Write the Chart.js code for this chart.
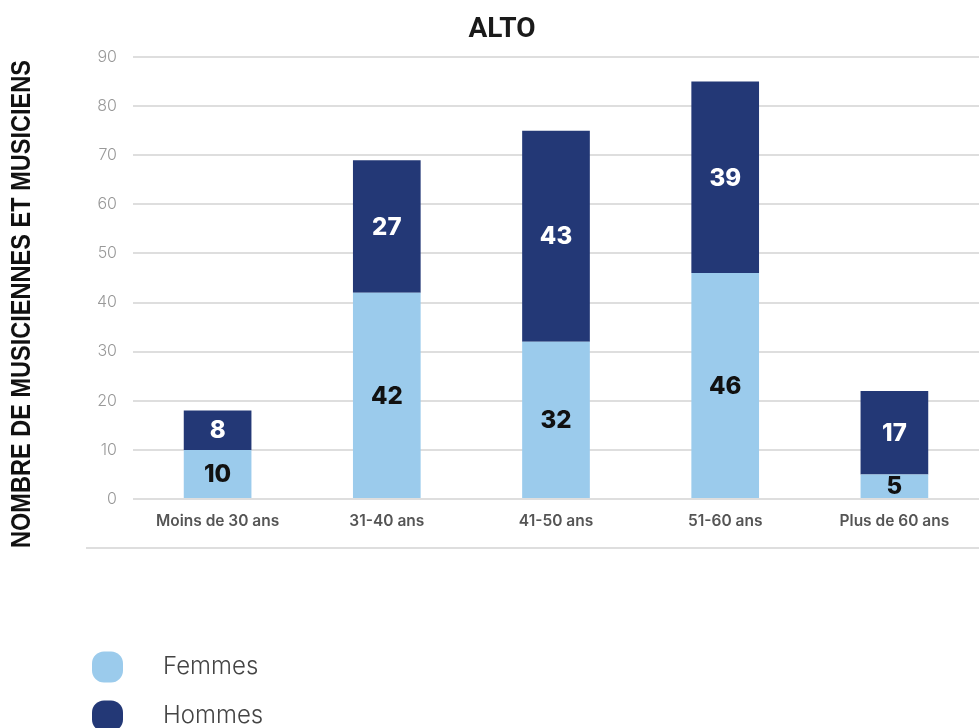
<!DOCTYPE html>
<html lang="fr">
<head>
  <meta charset="UTF-8" />
  <title>Alto – répartition par âge</title>
  <script src="https://cdn.jsdelivr.net/npm/chart.js"></script>
  <style>
    html, body { margin:0; padding:0; background:#fff; }
    #chart { display:block; }
  </style>
</head>
<body>
<canvas id="chart" width="979" height="728"></canvas>
<script>
  // data
  const categories = ["Moins de 30 ans", "31-40 ans", "41-50 ans", "51-60 ans", "Plus de 60 ans"];
  const femmes = [10, 42, 32, 46, 5];
  const hommes = [8, 27, 43, 39, 17];
  const yTicks = [0, 10, 20, 30, 40, 50, 60, 70, 80, 90];
  const seriesNames = ["Femmes", "Hommes"];
  const seriesColors = ["#9bcbec", "#233876"];
  const labelColors = ["#111", "#fff"];
  const chartTitle = "ALTO";
  const yTitle = "NOMBRE DE MUSICIENNES ET MUSICIENS";

  // title, y title, separator line and legend drawn by hand
  const decor = {
    id: 'decor',
    afterDraw(chart) {
      const c = chart.ctx;
      c.save();
      c.fillStyle = '#1a1a1a';
      c.font = 'bold 28px Roboto, sans-serif';
      c.textAlign = 'center'; c.textBaseline = 'middle';
      c.fillText(chartTitle, 502, 30);

      c.save();
      c.translate(22, 304);
      c.rotate(-Math.PI/2);
      c.font = 'bold 28px "Liberation Sans Narrow", "Liberation Sans", sans-serif';
      // squeeze to the measured length of the original label
      const w = c.measureText(yTitle).width;
      c.scale(488 / w, 1);
      c.fillStyle = '#111';
      c.fillText(yTitle, 0, 0);
      c.restore();

      c.strokeStyle = '#dedede'; c.lineWidth = 2;
      c.beginPath(); c.moveTo(86, 548); c.lineTo(979, 548); c.stroke();

      chart.data.datasets.forEach((ds, i) => {
        const y = 667 + i*49;
        c.fillStyle = ds.backgroundColor;
        c.beginPath();
        c.roundRect(92, y-15.5, 31, 31, 12);
        c.fill();
        c.fillStyle = '#444';
        c.font = '300 24px Inter, sans-serif';
        c.textAlign = 'left';
        c.fillText(ds.label, 163, y);
      });
      c.restore();
    }
  };

  // value in the middle of each segment
  const segLabels = {
    id: 'segLabels',
    afterDatasetsDraw(chart) {
      const c = chart.ctx;
      c.save();
      c.font = '800 24px Inter, sans-serif';
      c.textAlign = 'center'; c.textBaseline = 'middle';
      chart.data.datasets.forEach((ds, i) => {
        chart.getDatasetMeta(i).data.forEach((bar, j) => {
          const p = bar.getProps(['x','y','base'], true);
          c.fillStyle = labelColors[i];
          c.fillText(ds.data[j], p.x, (p.y + p.base)/2 + 1);
        });
      });
      c.restore();
    }
  };

  new Chart(document.getElementById('chart'), {
    type: 'bar',
    data: {
      labels: categories,
      datasets: [
        { label: seriesNames[0], data: femmes, backgroundColor: seriesColors[0] },
        { label: seriesNames[1], data: hommes, backgroundColor: seriesColors[1] }
      ]
    },
    options: {
      responsive: false,
      animation: false,
      layout: { padding: { top: 57, right: 0, bottom: 0, left: 0 } },
      datasets: { bar: { barPercentage: 0.4, categoryPercentage: 1 } },
      plugins: { legend: { display: false }, title: { display: false }, tooltip: { enabled: false } },
      scales: {
        x: {
          stacked: true,
          grid: { display: false, drawTicks: false },
          border: { display: false },
          ticks: { color: '#555', padding: 13, font: { family: 'Inter', size: 15.5, weight: '600' } },
          afterFit: s => { s.height = 229; }
        },
        y: {
          stacked: true,
          min: 0, max: 90,
          afterBuildTicks: s => { s.ticks = yTicks.map(v => ({ value: v })); },
          grid: { color: '#dedede', lineWidth: 2, drawTicks: false },
          border: { display: false },
          ticks: { color: '#999', padding: 16, font: { family: 'Inter', size: 16, weight: '300' } },
          afterFit: s => { s.width = 133; }
        }
      }
    },
    plugins: [segLabels, decor]
  });
</script>
</body>
</html>
